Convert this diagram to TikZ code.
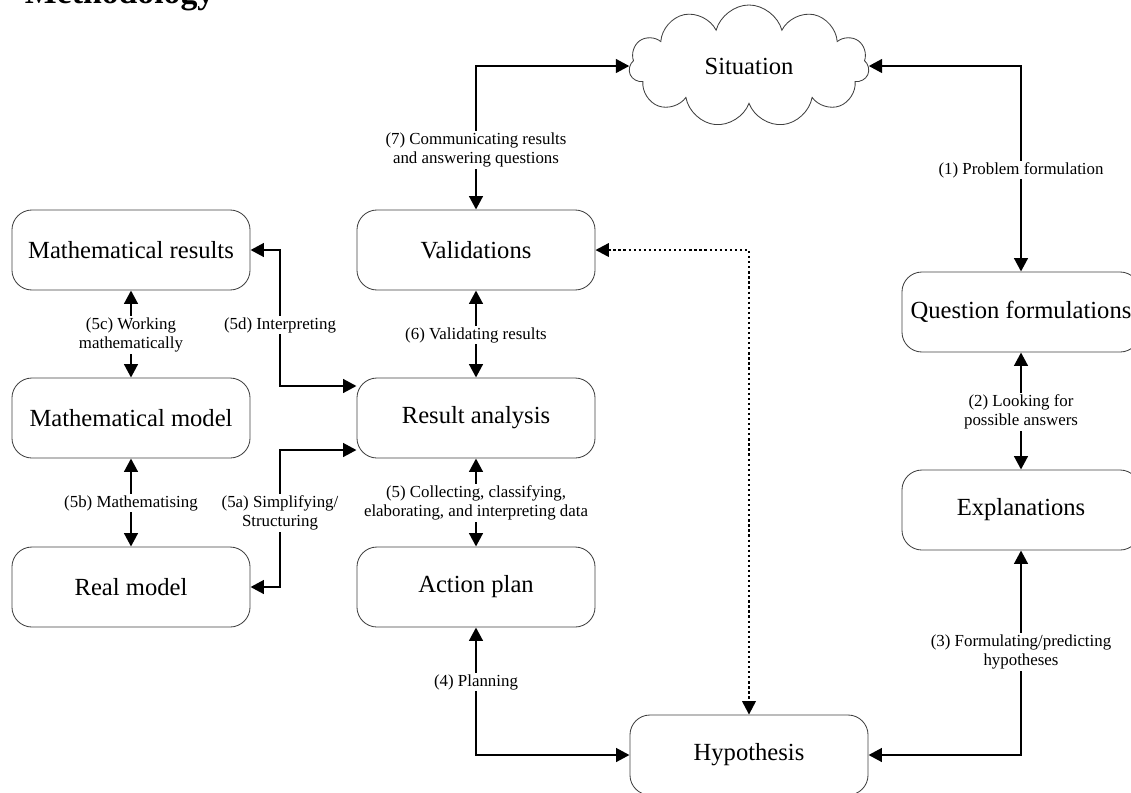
\documentclass[tikz,border=0pt]{standalone}
\usepackage{fontspec}
\setmainfont{Liberation Serif}
\usetikzlibrary{arrows.meta,shapes.symbols}
\tikzset{
	stage/.style={draw=black!75,line width=.6pt,rounded corners=.5cm,minimum width=5.95cm,minimum height=2cm,font=\fontsize{17.5}{20}\selectfont},
	link/.style={line width=2pt,{Triangle[length=9.5pt,width=9.5pt]}-{Triangle[length=9.5pt,width=9.5pt]}},
	hint/.style={link,line width=1.6pt,dotted},
	tag/.style={fill=white,inner sep=1pt,align=center,font=\fontsize{12}{14}\selectfont}
}
\begin{document}
\begin{tikzpicture}[x=.025cm,y=-.025cm]
	\useasboundingbox (0,0) rectangle (1131,792);
	\node[anchor=base west,font=\fontsize{24}{28}\selectfont\bfseries] (title) at (20,3) {Methodology};
	\node[cloud,draw=black!75,line width=.6pt,cloud puffs=11,cloud ignores aspect,minimum width=6cm,minimum height=3.05cm,inner sep=0pt,font=\fontsize{17.5}{20}\selectfont] (sit) at (749,66) {Situation};
	\path (131,250) node[stage] (mres) {Mathematical results}
	(131,418) node[stage] (mmod) {Mathematical model}
	(131,587) node[stage] (rmod) {Real model}
	(476,250) node[stage] (val) {Validations}
	(476,418) node[stage] (res) {Result analysis}
	(476,587) node[stage] (act) {Action plan}
	(749,755) node[stage] (hyp) {Hypothesis}
	(1021,312) node[stage] (qf) {Question formulations}
	(1021,510) node[stage] (expl) {Explanations};
	\coordinate (bend) at (280,0);
	\draw[link] (val.north) |- (sit.west);
	\draw[link] (qf.north) |- (sit.east);
	\draw[link] (qf.south) -- (expl.north);
	\draw[link] (expl.south) |- (hyp.east);
	\draw[link] (act.south) |- (hyp.west);
	\draw[link] (act.north) -- (res.south);
	\draw[link] (res.north) -- (val.south);
	\draw[hint] (val.east) -| (hyp.north);
	\draw[link] (mres.south) -- (mmod.north);
	\draw[link] (mmod.south) -- (rmod.north);
	\draw[link] (mres.east) -| (bend |- res.165) -- (res.165);
	\draw[link] (rmod.east) -| (bend |- res.195) -- (res.195);
	% labels on the connectors
	\node[tag] (t1) at (1021,170) {(1) Problem formulation};
	\node[tag] (t2) at (1021,412) {(2) Looking for\\possible answers};
	\node[tag] (t3) at (1021,652) {(3) Formulating/predicting\\hypotheses};
	\node[tag] (t4) at (476,682) {(4) Planning};
	\node[tag] (t5) at (476,503) {(5) Collecting, classifying,\\elaborating, and interpreting data};
	\node[tag] (t5a) at (280,513) {(5a) Simplifying/\\Structuring};
	\node[tag] (t5b) at (131,503) {(5b) Mathematising};
	\node[tag] (t5c) at (131,335) {(5c) Working\\mathematically};
	\node[tag] (t5d) at (280,325) {(5d) Interpreting};
	\node[tag] (t6) at (476,335) {(6) Validating results};
	\node[tag] (t7) at (476,150) {(7) Communicating results\\and answering questions};
\end{tikzpicture}
\end{document}
